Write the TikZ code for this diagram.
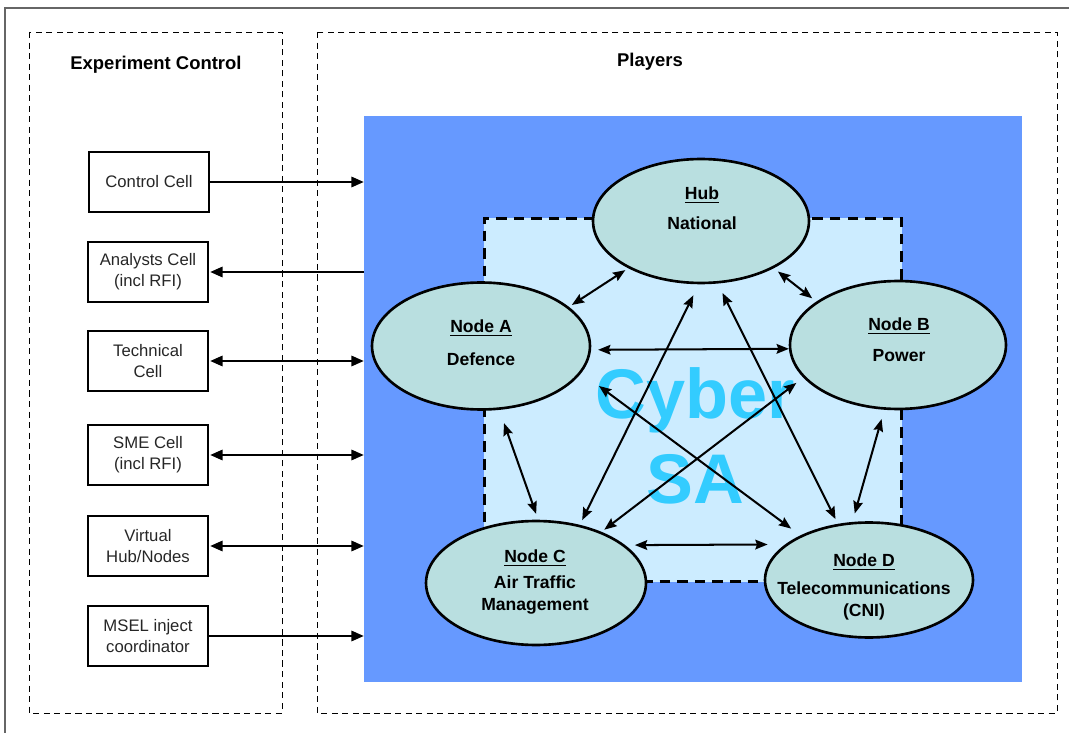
\documentclass[tikz,border=0pt]{standalone}
\usepackage{fontspec}
\setmainfont{Liberation Sans}
\usepackage{tikz}
\usetikzlibrary{arrows.meta}
\usetikzlibrary{shapes.geometric}
\usetikzlibrary{positioning}

\definecolor{areablue}{RGB}{102,153,255}
\definecolor{zonecyan}{RGB}{204,236,255}
\definecolor{sitefill}{RGB}{185,223,224}
\definecolor{cybertext}{RGB}{51,204,255}

\tikzset{
  cell/.style={draw, line width=0.6pt, minimum width=2.4cm, minimum height=1.2cm, inner sep=1pt,
    align=center, text=black!85, font=\fontsize{9.5}{12}\selectfont},
  site/.style={ellipse, draw, line width=1.5pt, fill=sitefill, inner sep=0pt},
  sitetext/.style={align=center, font=\fontsize{10}{12.5}\selectfont\bfseries},
  heading/.style={font=\fontsize{10.5}{12}\selectfont\bfseries},
  feed/.style={line width=0.8pt, -{Triangle[length=7pt,width=6pt]}},
  twoway/.style={line width=0.8pt, {Triangle[length=7pt,width=6pt]}-{Triangle[length=7pt,width=6pt]}},
  link/.style={line width=1.15pt, {Stealth[length=7pt,width=5.5pt,inset=1pt]}-{Stealth[length=7pt,width=5.5pt,inset=1pt]}},
  groupbox/.style={line width=0.5pt, dash pattern=on 3.5pt off 2.5pt}
}

\begin{document}
\begin{tikzpicture}[x=0.02cm, y=-0.02cm]
\useasboundingbox (0,0) rectangle (1069,733);

% frame and groups
\draw[black!60, line width=1.1pt] (5,733) -- (5,8) -- (1069,8);
\draw[groupbox] (29,32) rectangle (282,713);
\draw[groupbox] (317,32) rectangle (1057,713);
\node[heading] (ectitle) at (156,65) {Experiment Control};
\node[heading] (pltitle) at (650,62) {Players};

% players area
\node[fill=areablue, inner sep=0pt, minimum width=13.16cm, minimum height=11.32cm] (sa) at (693,399) {};
\node[fill=zonecyan, draw, line width=1.7pt, dash pattern=on 6pt off 4pt, inner sep=0pt,
  minimum width=8.36cm, minimum height=7.28cm] (zone) at (693,400) {};
\node[text=cybertext, align=center, font=\fontsize{40}{48}\selectfont\bfseries] (cyber) at (695,436) {Cyber\\SA};

% sites
\node[site, minimum width=4.32cm, minimum height=2.48cm] (hub) at (701,221) {};
\node[site, minimum width=4.36cm, minimum height=2.54cm] (nodeA) at (481,346) {};
\node[site, minimum width=4.32cm, minimum height=2.56cm] (nodeB) at (898,345) {};
\node[site, minimum width=4.40cm, minimum height=2.48cm] (nodeC) at (536,583) {};
\node[site, minimum width=4.16cm, minimum height=2.30cm] (nodeD) at (869,580) {};

\node[sitetext] (hubtext) at (702,208) {\underline{Hub}\\[4.5pt]National};
\node[sitetext] (atext) at (481,343) {\underline{Node A}\\[6.5pt]Defence};
\node[sitetext] (btext) at (899,340) {\underline{Node B}\\[5pt]Power};
\node[sitetext] (ctext) at (535,582) {\underline{Node C}\\[2.5pt]Air Traffic\\Management};
\node[sitetext] (dtext) at (864,587) {\underline{Node D}\\[3.5pt]Telecommunications\\(CNI)};

% links between sites
\draw[link, shorten <=2pt, shorten >=2pt] (hub.213) -- (nodeA.24);
\draw[link, shorten <=3pt, shorten >=3pt] (hub.327) -- (nodeB.152);
\draw[link, shorten <=4pt, shorten >=0pt] (nodeA.358) -- (nodeB.182);
\draw[link, shorten <=8pt, shorten >=3.5pt] (nodeA.286) -- (nodeC.88);
\draw[link, shorten <=5.5pt, shorten >=5pt] (nodeB.258) -- (nodeD.106);
\draw[link, shorten <=5.5pt, shorten >=10pt] (nodeC.23) -- (nodeD.157);
\draw[link, shorten <=7pt, shorten >=3pt] (hub.268) -- (nodeC.53);
\draw[link, shorten <=6pt, shorten >=3pt] (hub.285) -- (nodeD.119);
\draw[link, shorten <=12.5pt, shorten >=6.5pt] (nodeA.345) -- (nodeD.147);
\draw[link, shorten <=5pt, shorten >=2pt] (nodeB.199) -- (nodeC.38);

% control cells
\node[cell] (ctrl) at (149,182) {Control Cell};
\node[cell] (analysts) at (148,272) {Analysts Cell\\(incl RFI)};
\node[cell] (tech) at (148,361) {Technical\\Cell};
\node[cell] (sme) at (148,455) {SME Cell\\(incl RFI)};
\node[cell] (virtual) at (148,546) {Virtual\\Hub/Nodes};
\node[cell] (msel) at (148,636) {MSEL inject\\coordinator};

\draw[feed] (ctrl.east) -- (ctrl.east -| sa.west);
\draw[feed, shorten >=1pt] (analysts.east -| sa.west) -- (analysts.east);
\draw[twoway, shorten <=1pt] (tech.east) -- (tech.east -| sa.west);
\draw[twoway, shorten <=1pt] (sme.east) -- (sme.east -| sa.west);
\draw[twoway, shorten <=1pt] (virtual.east) -- (virtual.east -| sa.west);
\draw[feed] (msel.east) -- (msel.east -| sa.west);

\end{tikzpicture}
\end{document}
